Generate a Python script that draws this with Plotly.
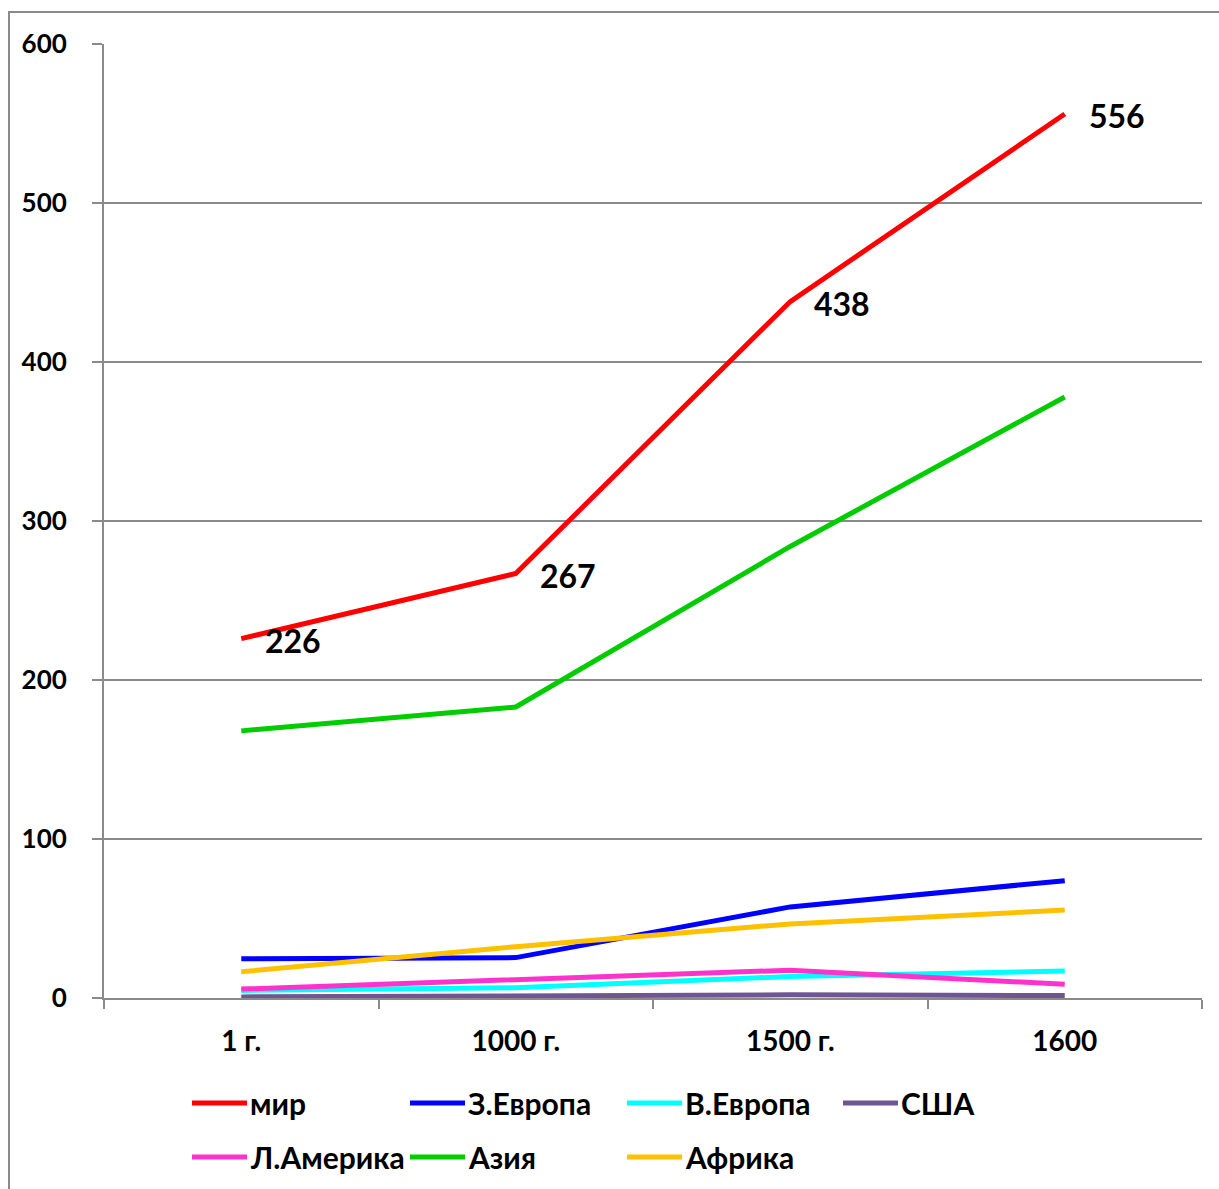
import plotly.graph_objects as go

categories = ["1 г.", "1000 г.", "1500 г.", "1600"]
series_names = ["мир", "З.Европа", "В.Европа", "США", "Л.Америка", "Азия", "Африка"]
world = [226, 267, 438, 556]
w_europe = [24.7, 25.4, 57.3, 73.8]
e_europe = [4.75, 6.5, 13.5, 16.95]
usa = [0.68, 1.3, 2.0, 1.5]
lat_america = [5.6, 11.4, 17.5, 8.6]
asia = [168, 183, 284, 378]
africa = [16.5, 32.3, 46.6, 55.3]
y_ticks = [0, 100, 200, 300, 400, 500, 600]

series_values = [world, w_europe, e_europe, usa, lat_america, asia, africa]
colors = ["#FF0000", "#0000FF", "#00FFFF", "#6F5592", "#FF33CC", "#00CC00", "#FFC000"]
# drawing order (later on top)
order = [5, 0, 1, 6, 2, 4, 3]

W, H = 1219, 1189
L, R, T, B = 104, 1202, 44, 998
FONT = "Lato"

fig = go.Figure()
for i in order:
    fig.add_trace(go.Scatter(
        x=categories, y=series_values[i], mode="lines", name=series_names[i],
        line=dict(color=colors[i], width=5), showlegend=False,
    ))

# data labels for world (category index used as x position)
for idx, v in enumerate(world):
    fig.add_annotation(x=idx, y=v, xref="x", yref="y", text=str(v), showarrow=False,
                       xanchor="left", yanchor="middle", xshift=22, yshift=-2,
                       font=dict(family=FONT, size=32, color="black", weight="bold"))

def px(x):
    return (x - L) / (R - L)

def py(y):
    return (B - y) / (B - T)

# custom legend
leg_cols = [192, 410, 627, 843]
leg_rows = [1103, 1157]
for k, name in enumerate(series_names):
    r, c = divmod(k, 4)
    x0 = leg_cols[c]
    y0 = leg_rows[r]
    fig.add_shape(type="line", xref="paper", yref="paper",
                  x0=px(x0), x1=px(x0 + 55), y0=py(y0), y1=py(y0),
                  line=dict(color=colors[k], width=5))
    fig.add_annotation(xref="paper", yref="paper", x=px(x0 + 56), y=py(y0), text=name,
                       showarrow=False, xanchor="left", yanchor="middle",
                       font=dict(family=FONT, size=30, color="black", weight="bold"))

# outer border
fig.add_shape(type="rect", xref="paper", yref="paper", layer="below",
              x0=px(9), x1=px(1230), y0=py(12), y1=py(1200),
              line=dict(color="#8A8A8A", width=2), fillcolor="rgba(0,0,0,0)")

fig.update_layout(
    width=W, height=H,
    margin=dict(l=L, r=W - R, t=T, b=H - B, pad=0),
    paper_bgcolor="white", plot_bgcolor="white",
    font=dict(family=FONT, size=26, color="black", weight="bold"),
    xaxis=dict(type="category", range=[-0.5, 3.5], tickson="boundaries",
               ticks="outside", ticklen=9, tickwidth=2, tickcolor="#8A8A8A",
               showline=True, linecolor="#8A8A8A", linewidth=2,
               showgrid=False, zeroline=False, ticklabelstandoff=17,
               tickfont=dict(family=FONT, size=28, color="black", weight="bold")),
    yaxis=dict(range=[0, 600], tickvals=y_ticks, ticks="outside", ticklen=10,
               tickwidth=2, tickcolor="#8A8A8A",
               showline=True, linecolor="#8A8A8A", linewidth=2,
               showgrid=True, gridcolor="#8A8A8A", gridwidth=1.5,
               zeroline=False, ticklabelstandoff=20,
               tickfont=dict(family=FONT, size=26, color="black", weight="bold")),
    showlegend=False,
)

fig.write_html("out.html")
